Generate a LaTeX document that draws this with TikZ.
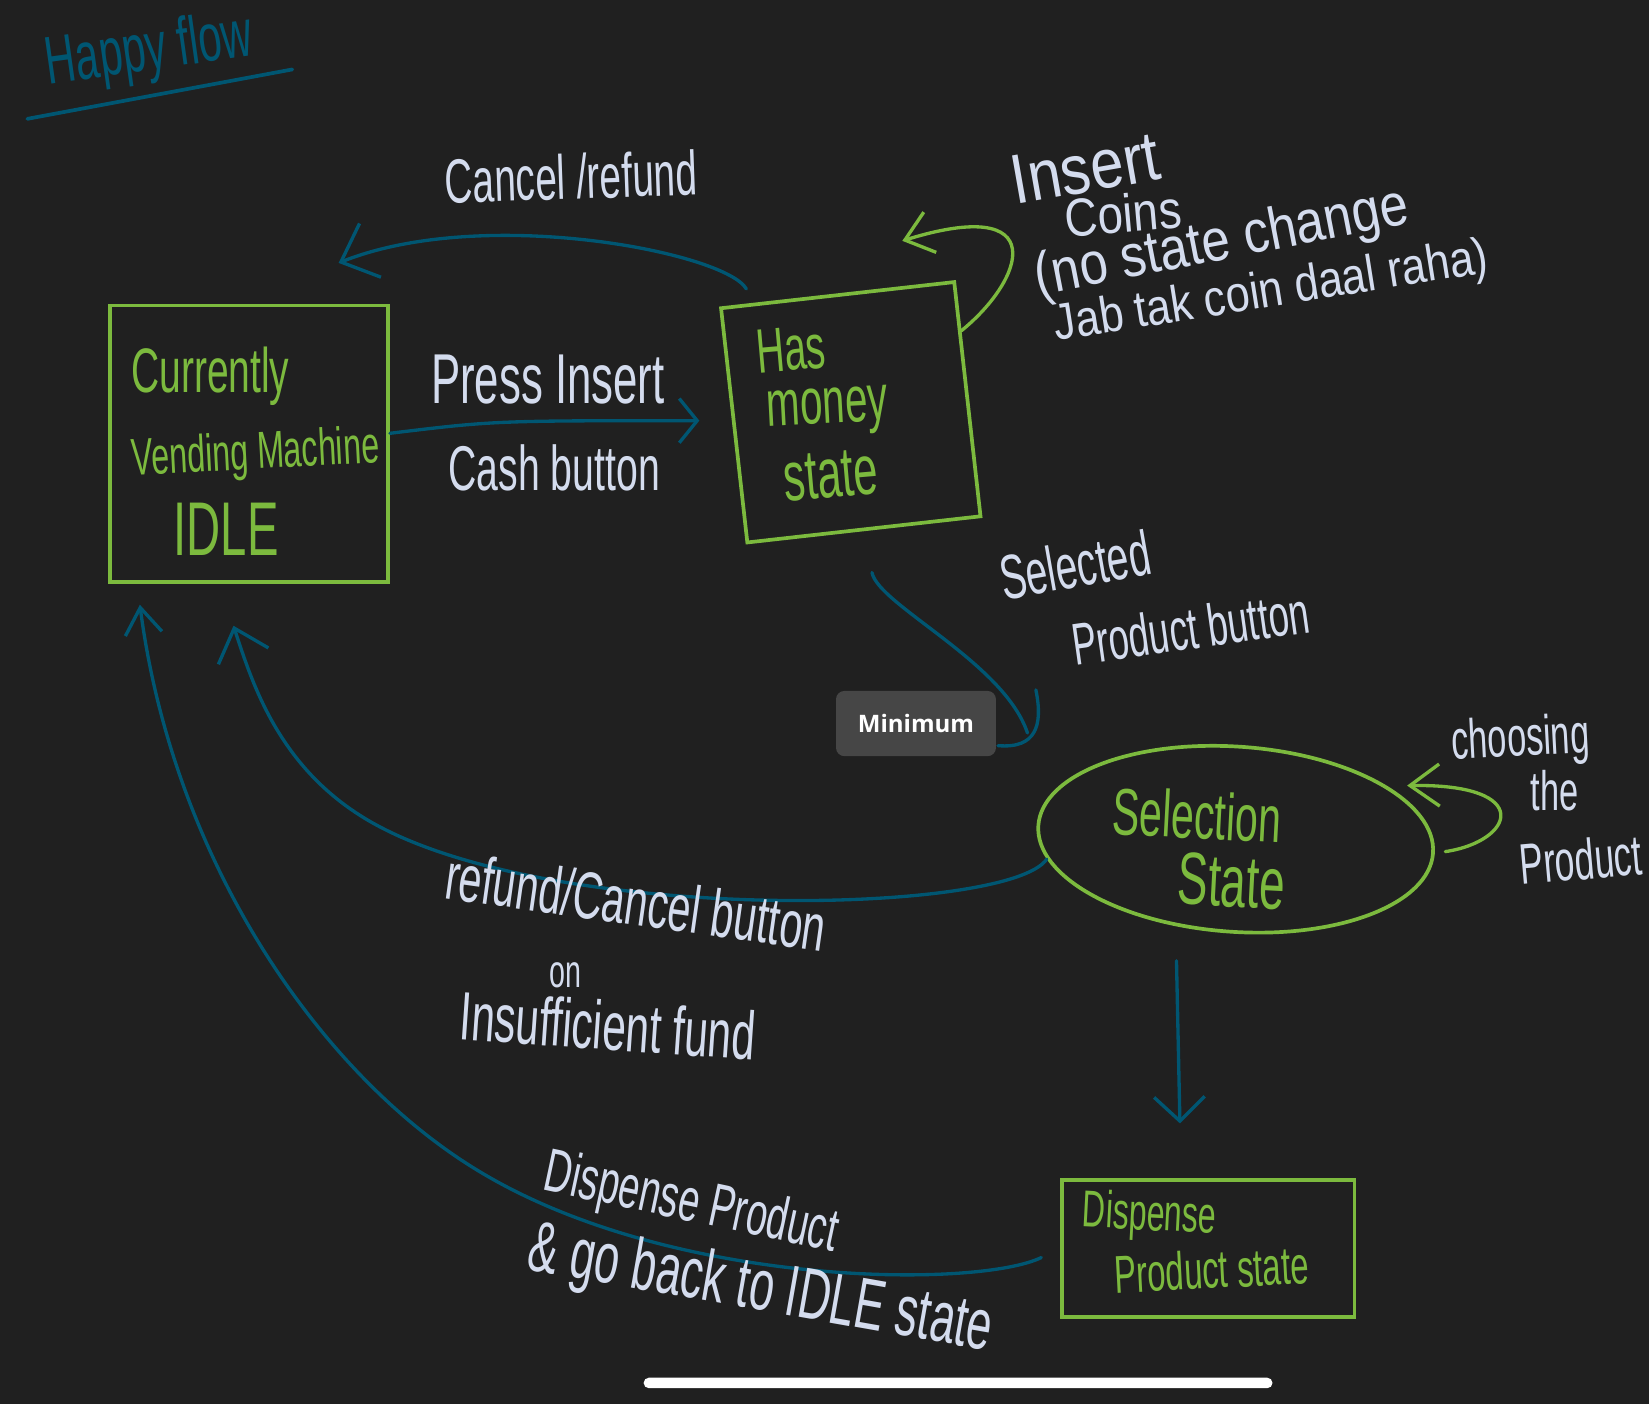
\documentclass[tikz,border=0pt]{standalone}
\usepackage{fontspec}
\setmainfont{Liberation Sans}[FakeStretch=0.62]
\newfontfamily\widehand{Liberation Sans}[FakeStretch=0.85]
\newfontfamily\uifont{Open Sans}
\usetikzlibrary{arrows.meta, shapes.geometric}

\definecolor{board}{RGB}{32,32,32}
\definecolor{chalkgreen}{RGB}{124,186,62}
\definecolor{inkteal}{RGB}{0,86,114}
\definecolor{chalk}{RGB}{212,220,238}
\definecolor{tipgray}{RGB}{70,70,70}

\newcommand{\fs}[1]{\fontsize{#1}{#1}\selectfont}

\tikzset{
  statebox/.style={draw=chalkgreen, line width=1pt, inner sep=0pt},
  greentext/.style={text=chalkgreen, inner sep=0pt},
  note/.style={text=chalk, inner sep=0pt},
  flow/.style={draw=inkteal, line width=0.9pt},
  selfloop/.style={draw=chalkgreen, line width=0.9pt},
}

\begin{document}
\begin{tikzpicture}[x=0.01cm, y=-0.01cm, line cap=round, >={Straight Barb[length=0.22cm, width=0.45cm]}]

    \fill[board] (0,0) rectangle (1568,1335);
    \useasboundingbox (0,0) rectangle (1568,1335);

    % Title
    \node[text=inkteal, inner sep=0pt, rotate=8] at (142, 50) (Title) {\fs{18.3}Happy flow};
    \draw[inkteal, line width=1pt] (26,113) -- (278,66);

    % Nodes
    \node[statebox, minimum width=2.64cm, minimum height=2.63cm] at (237, 422) (Idle) {};
    \node[greentext] at (200, 358) (IdleA) {\fs{17}Currently};
    \node[greentext, rotate=3] at (243, 433) (IdleB) {\fs{14.1}Vending Machine};
    \node[greentext] at (215, 503) (IdleC) {\fs{20.6}IDLE};

    \node[statebox, rotate=6.4, minimum width=2.23cm, minimum height=2.24cm] at (809, 392) (Money) {};
    \node[greentext, rotate=5] at (752, 332) (MoneyA) {\fs{17}Has};
    \node[greentext, rotate=3] at (787, 392) (MoneyB) {\fs{17.6}money};
    \node[greentext, rotate=5] at (790, 452) (MoneyC) {\fs{19}state};

    \node[statebox, ellipse, rotate=-4, minimum width=3.76cm, minimum height=1.76cm] at (1175, 798) (Select) {};
    \node[greentext, rotate=-3] at (1138, 775) (SelectA) {\fs{17.9}Selection};
    \node[greentext, rotate=-3] at (1171, 838) (SelectB) {\fs{20}State};

    \node[statebox, minimum width=2.78cm, minimum height=1.30cm] at (1149, 1187) (Dispense) {};
    \node[greentext, rotate=-3] at (1093, 1157) (DispenseA) {\fs{14}Dispense};
    \node[greentext, rotate=3] at (1152, 1207) (DispenseB) {\fs{14.4}Product state};

    \node[fill=tipgray, rounded corners=0.08cm, minimum width=1.52cm, minimum height=0.62cm,
          text=white, font={\uifont\bfseries\fs{6.5}}] at (871, 688) (Minimum) {Minimum};

    % Free ends
    \coordinate (PressTip) at (665, 400);
    \coordinate (CancelTip) at (322, 250);
    \coordinate (MoneyLoopTip) at (858, 229);
    \coordinate (SelTip) at (977, 697);
    \coordinate (SelLoopTip) at (1338, 747);
    \coordinate (RefundTip) at (222, 595);
    \coordinate (BackTip) at (133, 575);

    % Arrows and labels
    \draw[flow, ->, >={Straight Barb[length=0.17cm, width=0.42cm]}]
        ([yshift=0.1cm]Idle.east) .. controls (470, 400) .. (PressTip);
    \node[note] at (521, 361) (PressLbl) {\fs{19.1}Press Insert};
    \node[note] at (527, 445) (CashLbl) {\fs{17.1}Cash button};

    \draw[flow, ->, shorten <=0.15cm, >={Straight Barb[length=0.3cm, width=0.55cm]}]
        (Money.125) .. controls (690, 240) and (460, 195) .. (CancelTip);
    \node[note, rotate=2] at (543, 168) (CancelLbl) {\fs{16.9}Cancel /refund};

    \draw[selfloop, ->, >={Straight Barb[length=0.25cm, width=0.4cm]}]
        (Money.30) .. controls (975, 265) and (1000, 185) .. (MoneyLoopTip);
    \node[note, rotate=10] at (1032, 160) (CoinsA) {\widehand\fs{19}Insert};
    \node[note, rotate=5] at (1068, 203) (CoinsB) {\widehand\fs{14.5}Coins};
    \node[note, rotate=11] at (1162, 232) (CoinsC) {\widehand\fs{16.2}(no state change};
    \node[note, rotate=9] at (1209, 279) (CoinsD) {\widehand\fs{13.8}Jab tak coin daal raha)};

    \draw[flow, shorten <=0.4cm]
        (Money.south) .. controls (835, 575) and (955, 630) .. (SelTip);
    \draw[flow] (985, 656) .. controls (992, 690) and (985, 712) .. (949, 709);
    \node[note, rotate=10] at (1022, 537) (SelectedLbl) {\fs{17}Selected};
    \node[note, rotate=8] at (1132, 597) (ButtonLbl) {\fs{16}Product button};

    \draw[selfloop, ->, shorten <=0.1cm, >={Straight Barb[length=0.28cm, width=0.4cm]}]
        (Select.east) .. controls (1440, 800) and (1460, 745) .. (SelLoopTip);
    \node[note, rotate=3] at (1446, 705) (ChooseA) {\fs{15}choosing};
    \node[note] at (1478, 752) (ChooseB) {\fs{15}the};
    \node[note, rotate=5] at (1503, 817) (ChooseC) {\fs{15.5}Product};

    \draw[flow, ->, >={Straight Barb[length=0.28cm, width=0.5cm]}]
        (Select.190) .. controls (960, 870) and (520, 880) .. (350, 780)
        .. controls (265, 730) and (240, 650) .. (RefundTip);
    \node[note, rotate=-8] at (605, 857) (RefundA) {\fs{18}refund/Cancel button};
    \node[note] at (538, 927) (RefundB) {\fs{12.5}on};
    \node[note, rotate=-4] at (578, 975) (RefundC) {\fs{18.5}Insufficient fund};

    \draw[flow, ->, >={Straight Barb[length=0.23cm, width=0.48cm]}]
        ([xshift=-0.5cm, yshift=-0.26cm]Select.south) -- ([xshift=-0.27cm, yshift=0.52cm]Dispense.north);

    \draw[flow, ->, shorten <=0.2cm, >={Straight Barb[length=0.25cm, width=0.35cm]}]
        (Dispense.west) .. controls (930, 1225) and (640, 1225) .. (456, 1114)
        .. controls (306, 1024) and (165, 820) .. (BackTip);
    \node[note, rotate=-12] at (657, 1146) (BackA) {\fs{16.5}Dispense Product};
    \node[note, rotate=-10] at (723, 1228) (BackB) {\fs{19.5}\& go back to IDLE state};

    % Home bar
    \fill[white, rounded corners=0.05cm] (612, 1310) rectangle (1210, 1320);

\end{tikzpicture}
\end{document}
